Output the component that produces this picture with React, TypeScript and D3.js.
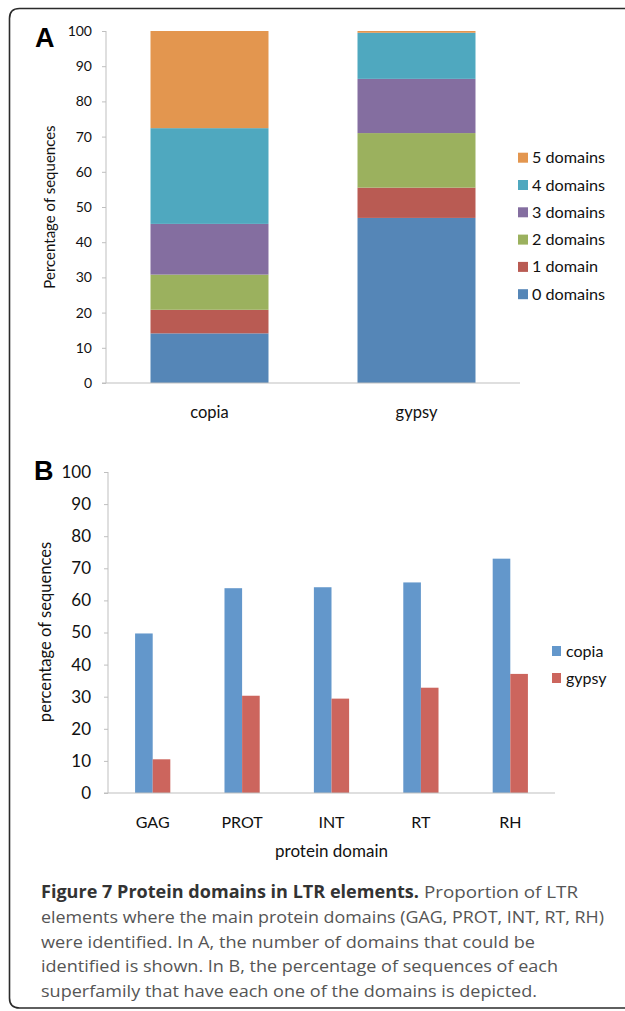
import React, { useEffect, useRef } from 'react';
import * as d3 from 'd3';

// Panel A: share of sequences by number of domains found
const superfamilies = ['copia', 'gypsy'];
const domainCounts = ['0 domains', '1 domain', '2 domains', '3 domains', '4 domains', '5 domains'];
const copiaDomainShares = [14.1, 6.7, 10.0, 14.4, 27.2, 27.6];
const gypsyDomainShares = [46.9, 8.6, 15.5, 15.4, 13.1, 0.5];
const domainCountColors = ['#5586b7', '#b95b53', '#9bb15e', '#846ea0', '#4fa8bf', '#e3964f'];

// Panel B: percentage of sequences carrying each protein domain
const proteinDomains = ['GAG', 'PROT', 'INT', 'RT', 'RH'];
const copiaPresence = [49.7, 63.8, 64.1, 65.6, 73.0];
const gypsyPresence = [10.5, 30.3, 29.4, 32.8, 37.1];
const presenceColors = ['#6397cb', '#cc655d'];

const captionTitle = 'Figure 7 Protein domains in LTR elements.';
const captionLines = [
  'Proportion of LTR',
  'elements where the main protein domains (GAG, PROT, INT, RT, RH)',
  'were identified. In A, the number of domains that could be',
  'identified is shown. In B, the percentage of sequences of each',
  'superfamily that have each one of the domains is depicted.',
];
// measured line widths in the figure (px)
const captionWidths = [154, 563, 494, 517, 496];

const FONT = 'Lato, "Open Sans", sans-serif';
const AXIS = '#bfbfbf';

const App = () => {
  const svgRef = useRef<SVGSVGElement>(null);

  useEffect(() => {
    const svg = d3.select(svgRef.current);
    svg.selectAll('*').remove();

    // outer frame (open on the right, like the cropped figure)
    svg.append('path')
      .attr('d', 'M640,8.5 H19.5 Q9.5,8.5 9.5,18.5 V998 Q9.5,1008 19.5,1008 H640')
      .attr('fill', 'none')
      .attr('stroke', '#2b2b2b')
      .attr('stroke-width', 1.6);

    // ---------- Panel A ----------
    const gA = svg.append('g');
    const xA = d3.scaleBand().domain(superfamilies).range([106, 520]).paddingInner(0.43).paddingOuter(0.215);
    const yA = d3.scaleLinear().domain([0, 100]).range([383, 31]);

    const rowsA = superfamilies.map((s, i) => {
      const vals = i === 0 ? copiaDomainShares : gypsyDomainShares;
      const row: any = { name: s };
      domainCounts.forEach((d, j) => { row[d] = vals[j]; });
      return row;
    });
    const stackA = d3.stack().keys(domainCounts)(rowsA);

    gA.selectAll('g.layer')
      .data(stackA)
      .enter()
      .append('g')
      .attr('fill', (_, i) => domainCountColors[i])
      .selectAll('rect')
      .data(d => d)
      .enter()
      .append('rect')
      .attr('x', (d: any) => xA(d.data.name)!)
      .attr('width', xA.bandwidth())
      .attr('y', d => yA(d[1]))
      .attr('height', d => yA(d[0]) - yA(d[1]));

    const axisA = gA.append('g')
      .attr('transform', 'translate(106,0)')
      .call(d3.axisLeft(yA).ticks(10).tickSize(4).tickPadding(10));
    axisA.select('.domain').attr('stroke', AXIS).attr('d', `M0,${yA(100)}V${yA(0)}`);
    axisA.selectAll('.tick line').attr('stroke', AXIS);
    axisA.selectAll('.tick text').attr('font-family', FONT).attr('font-size', 14).attr('fill', '#111');

    gA.append('line')
      .attr('x1', 102).attr('x2', 520)
      .attr('y1', yA(0)).attr('y2', yA(0))
      .attr('stroke', AXIS);

    gA.selectAll('text.xlab')
      .data(superfamilies)
      .enter()
      .append('text')
      .attr('x', d => xA(d)! + xA.bandwidth() / 2)
      .attr('y', 418)
      .attr('text-anchor', 'middle')
      .attr('font-family', FONT)
      .attr('font-size', 16.5)
      .attr('fill', '#111')
      .text(d => d);

    gA.append('text')
      .attr('transform', 'translate(55,207) rotate(-90)')
      .attr('text-anchor', 'middle')
      .attr('font-family', FONT)
      .attr('font-size', 15)
      .attr('fill', '#111')
      .text('Percentage of sequences');

    const legA = gA.selectAll('g.leg')
      .data(domainCounts.slice().reverse())
      .enter()
      .append('g')
      .attr('transform', (_, i) => `translate(518,${157.7 + i * 27.3})`);
    legA.append('rect')
      .attr('x', 0).attr('y', -5).attr('width', 10).attr('height', 10)
      .attr('fill', d => domainCountColors[domainCounts.indexOf(d)]);
    legA.append('text')
      .attr('x', 14).attr('y', 5.5)
      .attr('font-family', FONT)
      .attr('font-size', 16.2)
      .attr('fill', '#111')
      .text(d => d);

    gA.append('text')
      .attr('x', 35).attr('y', 47)
      .attr('font-family', '"Liberation Sans", Arial, sans-serif')
      .attr('font-weight', 'bold')
      .attr('font-size', 27)
      .text('A');

    // ---------- Panel B ----------
    const gB = svg.append('g');
    const xB = d3.scaleBand().domain(proteinDomains).range([108, 555]).paddingInner(0.606).paddingOuter(0.303);
    const xSeries = d3.scaleBand().domain(superfamilies).range([0, xB.bandwidth()]);
    const yB = d3.scaleLinear().domain([0, 100]).range([793, 472]);

    const seriesB = [copiaPresence, gypsyPresence];
    superfamilies.forEach((s, si) => {
      gB.append('g')
        .attr('fill', presenceColors[si])
        .selectAll('rect')
        .data(seriesB[si])
        .enter()
        .append('rect')
        .attr('x', (_, i) => xB(proteinDomains[i])! + xSeries(s)!)
        .attr('width', xSeries.bandwidth())
        .attr('y', d => yB(d))
        .attr('height', d => yB(0) - yB(d));
    });

    const axisB = gB.append('g')
      .attr('transform', 'translate(108,0)')
      .call(d3.axisLeft(yB).ticks(10).tickSize(4).tickPadding(13));
    axisB.select('.domain').attr('stroke', AXIS).attr('d', `M0,${yB(100)}V${yB(0)}`);
    axisB.selectAll('.tick line').attr('stroke', AXIS);
    axisB.selectAll('.tick text').attr('font-family', FONT).attr('font-size', 17).attr('fill', '#111');

    gB.append('line')
      .attr('x1', 104).attr('x2', 555)
      .attr('y1', yB(0)).attr('y2', yB(0))
      .attr('stroke', AXIS);

    gB.selectAll('text.xlab')
      .data(proteinDomains)
      .enter()
      .append('text')
      .attr('x', d => xB(d)! + xB.bandwidth() / 2)
      .attr('y', 828)
      .attr('text-anchor', 'middle')
      .attr('font-family', FONT)
      .attr('font-size', 16)
      .attr('fill', '#111')
      .text(d => d);

    gB.append('text')
      .attr('x', (108 + 555) / 2)
      .attr('y', 857)
      .attr('text-anchor', 'middle')
      .attr('font-family', FONT)
      .attr('font-size', 17)
      .attr('fill', '#111')
      .text('protein domain');

    gB.append('text')
      .attr('transform', 'translate(51,632) rotate(-90)')
      .attr('text-anchor', 'middle')
      .attr('font-family', FONT)
      .attr('font-size', 16.6)
      .attr('fill', '#111')
      .text('percentage of sequences');

    const legB = gB.selectAll('g.leg')
      .data(superfamilies)
      .enter()
      .append('g')
      .attr('transform', (_, i) => `translate(552,${651 + i * 27})`);
    legB.append('rect')
      .attr('x', 0).attr('y', -5).attr('width', 9).attr('height', 10)
      .attr('fill', (_, i) => presenceColors[i]);
    legB.append('text')
      .attr('x', 14).attr('y', 6)
      .attr('font-family', FONT)
      .attr('font-size', 16)
      .attr('fill', '#111')
      .text(d => d);

    gB.append('text')
      .attr('x', 34).attr('y', 480)
      .attr('font-family', '"Liberation Sans", Arial, sans-serif')
      .attr('font-weight', 'bold')
      .attr('font-size', 27)
      .text('B');

    // ---------- Caption ----------
    const cap = svg.append('g')
      .attr('font-family', '"Open Sans", sans-serif')
      .attr('font-size', 17)
      .attr('fill', '#555');
    cap.append('text')
      .attr('x', 41).attr('y', 898)
      .attr('font-weight', 'bold')
      .attr('fill', '#333')
      .attr('textLength', 378)
      .attr('lengthAdjust', 'spacingAndGlyphs')
      .text(captionTitle);
    cap.selectAll('text.line')
      .data(captionLines)
      .enter()
      .append('text')
      .attr('x', (_, i) => (i === 0 ? 424 : 41))
      .attr('y', (_, i) => (i === 0 ? 898 : 898 + i * 24.8))
      .attr('textLength', (_, i) => captionWidths[i])
      .attr('lengthAdjust', 'spacingAndGlyphs')
      .text(d => d);
  }, []);

  return (
    <div style={{ position: 'absolute', left: 0, top: 0 }}>
      <svg ref={svgRef} width="625" height="1011" style={{ background: '#fff', display: 'block' }} />
    </div>
  );
};

export default App;
